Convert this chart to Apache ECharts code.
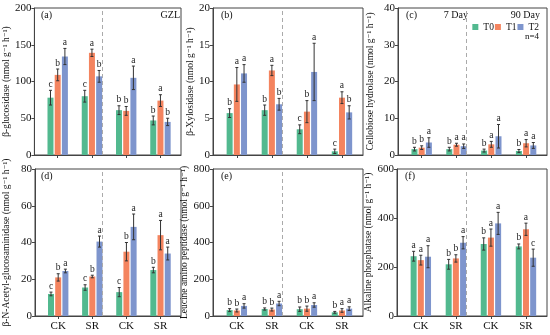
<!DOCTYPE html>
<html><head><meta charset="utf-8">
<script src="https://cdn.jsdelivr.net/npm/echarts@6/dist/echarts.min.js"></script>
<style>html,body{margin:0;padding:0;background:#fff}#c{width:550px;height:335px}</style>
</head><body><div id="c"></div>
<script>
const groupLabels = ['CK', 'SR', 'CK', 'SR'];
const treatments = ['T0', 'T1', 'T2'];
const colors = ['#52b98f', '#f4845f', '#7e95cd'];

// (a) beta-glucosidase — rows: T0, T1, T2; columns: CK7, SR7, CK90, SR90
const glucMean = [[78, 80, 61, 47], [109, 139, 60, 74], [134, 107, 105, 45]];
const glucSd   = [[10, 8, 6, 6], [8, 5, 6, 8], [11, 8, 16, 5]];
const glucSig  = [['c','c','b','b'], ['b','a','b','a'], ['a','b','a','b']];
// (b) beta-xylosidase
const xylMean = [[5.7, 6.1, 3.5, 0.5], [9.6, 11.5, 5.9, 7.8], [11.1, 6.9, 11.3, 5.8]];
const xylSd   = [[0.6, 0.7, 0.6, 0.3], [2.3, 0.7, 1.5, 0.8], [1.2, 0.8, 3.9, 0.9]];
const xylSig  = [['b','b','c','c'], ['a','a','b','a'], ['a','b','a','b']];
// (c) cellobiose hydrolase
const cbhMean = [[1.6, 1.6, 1.2, 1.1], [2.0, 2.8, 2.9, 3.2], [3.4, 2.4, 5.1, 2.6]];
const cbhSd   = [[0.5, 0.5, 0.4, 0.4], [0.5, 0.4, 0.8, 1.0], [1.3, 0.6, 3.2, 0.8]];
const cbhSig  = [['b','b','b','b'], ['b','a','a','a'], ['a','a','a','a']];
// (d) beta-N-acetyl-glucosaminidase
const nagMean = [[12, 15.5, 13, 25], [21, 21.5, 35, 44], [24.5, 40.5, 48.5, 34]];
const nagSd   = [[1, 1.5, 2.5, 1.5], [2, 0.7, 5, 8], [1, 3, 7, 3.5]];
const nagSig  = [['c','c','c','b'], ['b','b','b','a'], ['a','a','a','a']];
// (e) leucine amino peptidase
const lapMean = [[32, 38, 37, 20], [30, 35, 40, 30], [55, 68, 60, 40]];
const lapSd   = [[8, 6, 12, 5], [8, 8, 14, 10], [12, 12, 12, 10]];
const lapSig  = [['b','b','b','b'], ['b','b','b','a'], ['a','a','a','a']];
// (f) alkaline phosphatase
const alpMean = [[244, 211, 294, 284], [228, 235, 320, 354], [242, 299, 378, 238]];
const alpSd   = [[20, 20, 25, 10], [20, 15, 35, 25], [45, 25, 45, 35]];
const alpSig  = [['a','b','b','b'], ['a','b','a','a'], ['a','a','a','c']];

const yTitles = [
  'β-glucosidase (nmol g⁻¹ h⁻¹)',
  'β-Xylosidase (nmol g⁻¹ h⁻¹)',
  'Cellobiose hydrolase (nmol g⁻¹ h⁻¹)',
  'β-N-Acetyl-glucosaminidase (nmol g⁻¹ h⁻¹)',
  'Leucine amino peptidase (nmol g⁻¹ h⁻¹)',
  'Alkaline phosphatase (nmol g⁻¹ h⁻¹)'
];
const yMax = [200, 20, 40, 80, 800, 600];
const yInterval = [50, 5, 10, 20, 200, 200];
const panelLetters = ['(a)', '(b)', '(c)', '(d)', '(e)', '(f)'];

const panels = [
  {mean: glucMean, sd: glucSd, sig: glucSig},
  {mean: xylMean, sd: xylSd, sig: xylSig},
  {mean: cbhMean, sd: cbhSd, sig: cbhSig},
  {mean: nagMean, sd: nagSd, sig: nagSig},
  {mean: lapMean, sd: lapSd, sig: lapSig},
  {mean: alpMean, sd: alpSd, sig: alpSig}
];

// layout (styles)
const gridPos = [
  {left: 33, top: 8, width: 148, height: 147},
  {left: 213, top: 8, width: 150, height: 147},
  {left: 398, top: 8, width: 149, height: 147},
  {left: 33, top: 169, width: 148, height: 147},
  {left: 213, top: 169, width: 150, height: 147},
  {left: 397, top: 169, width: 150, height: 147}
];
const nameGaps = [21, 14, 23, 24, 23, 22];
const FONT = '"Liberation Serif", "DejaVu Serif", "Times New Roman", serif';
const AX = '#444';
const barW = 6, barStep = 7.2;

const grids = [], xAxes = [], yAxes = [], series = [], graphics = [];
panels.forEach((p, pi) => {
  const g = gridPos[pi];
  grids.push(Object.assign({show: true, borderColor: AX, borderWidth: 1, backgroundColor: 'transparent'}, g));
  const bottomRow = pi >= 3;
  xAxes.push({
    type: 'value', gridIndex: pi, min: 0.32, max: 4.6,
    axisLine: {show: true, onZero: false, lineStyle: {color: AX}},
    axisTick: {show: true, customValues: [1, 2, 3, 4], length: 3, lineStyle: {color: AX}},
    axisLabel: {show: bottomRow, customValues: [1, 2, 3, 4], formatter: v => groupLabels[Math.round(v) - 1] || '',
      fontSize: 11, color: '#111', fontFamily: FONT, margin: 5},
    splitLine: {show: false}
  });
  yAxes.push({
    type: 'value', gridIndex: pi, min: 0, max: yMax[pi], interval: yInterval[pi],
    axisLine: {show: true, lineStyle: {color: AX}},
    axisTick: {show: true, length: 3, lineStyle: {color: AX}},
    axisLabel: {fontSize: 11, color: '#111', fontFamily: FONT, margin: 3},
    splitLine: {show: false},
    name: yTitles[pi], nameLocation: 'middle', nameGap: nameGaps[pi],
    nameTextStyle: {fontSize: 9.5, color: '#111', fontFamily: FONT}
  });
  treatments.forEach((t, ti) => {
    const barData = p.mean[ti].map((m, gi) => [gi + 1, m]);
    const s = {
      type: 'bar', name: t, xAxisIndex: pi, yAxisIndex: pi, data: barData,
      barWidth: barW, barGap: '20%', itemStyle: {color: colors[ti]}, silent: true, z: 2
    };
    if (ti === 0) {
      s.markLine = {silent: true, symbol: 'none', label: {show: false},
        lineStyle: {type: [4, 3], color: '#aaa', width: 1},
        data: [{xAxis: 2.5}], animation: false};
    }
    series.push(s);
    const errData = p.mean[ti].map((m, gi) => [gi + 1, m, p.sd[ti][gi]]);
    const sig = p.sig[ti];
    const off = (ti - 1) * barStep;
    series.push({
      type: 'custom', name: t + ' err', xAxisIndex: pi, yAxisIndex: pi, data: errData, z: 5, silent: true,
      renderItem: function (params, api) {
        const x = api.value(0), m = api.value(1), sd = api.value(2);
        const top = api.coord([x, m + sd]);
        const bot = api.coord([x, Math.max(m - sd, 0)]);
        const cx = top[0] + off;
        const st = {stroke: '#333', lineWidth: 1};
        return {type: 'group', children: [
          {type: 'line', shape: {x1: cx, y1: top[1], x2: cx, y2: bot[1]}, style: st},
          {type: 'line', shape: {x1: cx - 1.5, y1: top[1], x2: cx + 1.5, y2: top[1]}, style: st},
          {type: 'line', shape: {x1: cx - 1.5, y1: bot[1], x2: cx + 1.5, y2: bot[1]}, style: st},
          {type: 'text', style: {text: sig[params.dataIndex], x: cx, y: top[1] - 1, align: 'center',
            verticalAlign: 'bottom', fontSize: 9.5, fontFamily: FONT, fill: '#222'}}
        ]};
      }
    });
  });
  graphics.push({type: 'text', left: g.left + 8, top: g.top + 2,
    style: {text: panelLetters[pi], fontSize: 10, fontFamily: FONT, fill: '#111'}});
});

graphics.push({type: 'text', right: 550 - 180, top: 10, style: {text: 'GZL', fontSize: 10, fontFamily: FONT, fill: '#111'}});
graphics.push({type: 'text', right: 550 - 468, top: 10, style: {text: '7 Day', fontSize: 10, fontFamily: FONT, fill: '#111'}});
graphics.push({type: 'text', right: 550 - 540, top: 10, style: {text: '90 Day', fontSize: 10, fontFamily: FONT, fill: '#111'}});
graphics.push({type: 'text', right: 550 - 539, top: 32, style: {text: 'n=4', fontSize: 9, fontFamily: FONT, fill: '#111'}});

const chart = echarts.init(document.getElementById('c'), null, {renderer: 'canvas'});
chart.setOption({
  animation: false,
  backgroundColor: '#fff',
  grid: grids, xAxis: xAxes, yAxis: yAxes, series: series,
  legend: {data: treatments, right: 11, top: 22, itemWidth: 6, itemHeight: 6, itemGap: 1, icon: 'rect',
    padding: 0, selectedMode: false, textStyle: {fontSize: 9.5, fontFamily: FONT, color: '#111'}},
  graphic: graphics
});
</script></body></html>
